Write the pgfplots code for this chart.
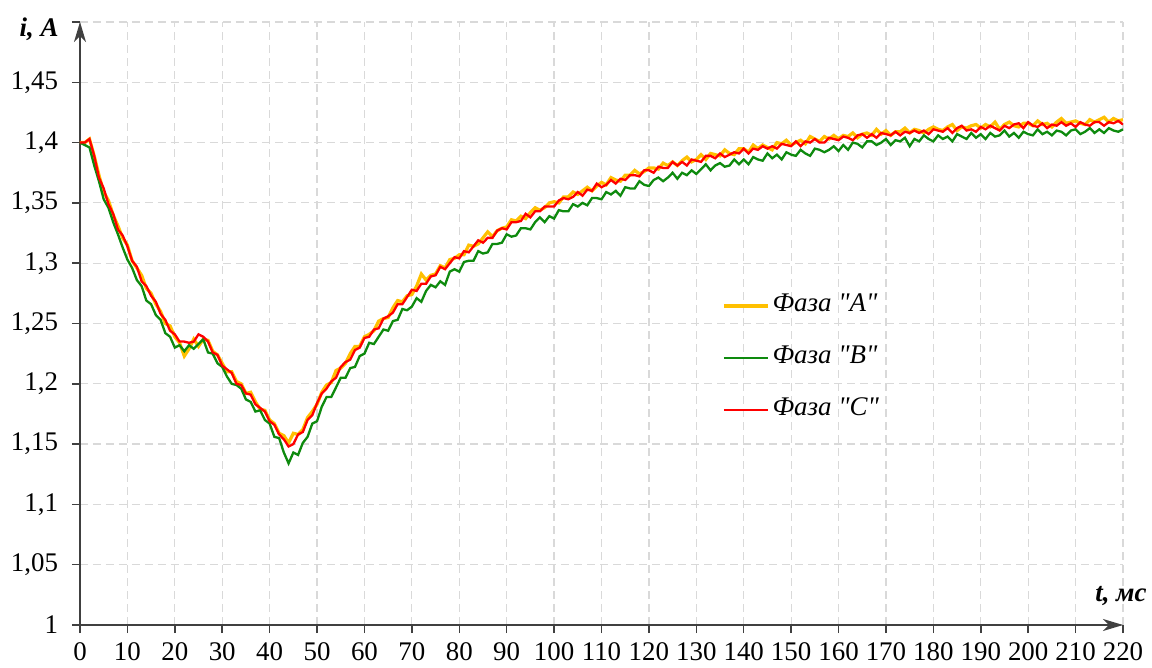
\documentclass[border=0pt]{standalone}
\usepackage{fontspec}
\setmainfont{Liberation Serif}[Ligatures=TeXOff]
\usepackage{pgfplots}
\usepackage{pgfplotstable}
\pgfplotsset{compat=1.18}
\usetikzlibrary{arrows.meta}
\definecolor{phA}{HTML}{FFC000}
\definecolor{phB}{HTML}{0E8A0E}
\definecolor{phC}{HTML}{FF0000}
\definecolor{gridc}{HTML}{D9D9D9}
\definecolor{axc}{HTML}{404040}

\pgfplotstableread{
t A B C
0 1.400 1.400 1.400
1 1.400 1.398 1.400
2 1.403 1.396 1.403
3 1.389 1.381 1.389
4 1.373 1.368 1.371
5 1.359 1.353 1.362
6 1.352 1.346 1.349
7 1.340 1.334 1.341
8 1.331 1.324 1.328
9 1.321 1.313 1.323
10 1.315 1.303 1.314
11 1.302 1.296 1.302
12 1.296 1.286 1.297
13 1.290 1.281 1.285
14 1.279 1.269 1.281
15 1.275 1.266 1.273
16 1.266 1.257 1.268
17 1.260 1.253 1.258
18 1.250 1.242 1.253
19 1.248 1.239 1.244
20 1.239 1.230 1.241
21 1.234 1.232 1.235
22 1.223 1.227 1.235
23 1.229 1.232 1.234
24 1.237 1.229 1.235
25 1.231 1.233 1.241
26 1.237 1.237 1.239
27 1.236 1.226 1.235
28 1.227 1.225 1.226
29 1.224 1.217 1.224
30 1.217 1.214 1.215
31 1.210 1.206 1.212
32 1.210 1.200 1.209
33 1.202 1.199 1.200
34 1.200 1.196 1.199
35 1.192 1.187 1.192
36 1.193 1.185 1.191
37 1.185 1.177 1.183
38 1.179 1.178 1.180
39 1.178 1.170 1.177
40 1.170 1.167 1.169
41 1.167 1.156 1.166
42 1.159 1.155 1.158
43 1.157 1.143 1.154
44 1.151 1.134 1.148
45 1.159 1.143 1.150
46 1.158 1.141 1.158
47 1.162 1.151 1.160
48 1.172 1.156 1.170
49 1.177 1.167 1.174
50 1.183 1.169 1.184
51 1.193 1.181 1.192
52 1.199 1.189 1.196
53 1.201 1.189 1.202
54 1.211 1.197 1.205
55 1.213 1.205 1.214
56 1.217 1.205 1.218
57 1.225 1.213 1.220
58 1.231 1.214 1.228
59 1.231 1.223 1.230
60 1.239 1.225 1.238
61 1.241 1.234 1.239
62 1.244 1.233 1.245
63 1.252 1.239 1.246
64 1.254 1.245 1.254
65 1.255 1.244 1.256
66 1.263 1.252 1.259
67 1.269 1.253 1.266
68 1.268 1.262 1.266
69 1.273 1.261 1.272
70 1.274 1.264 1.278
71 1.281 1.271 1.277
72 1.291 1.268 1.283
73 1.286 1.277 1.283
74 1.290 1.282 1.289
75 1.291 1.280 1.290
76 1.298 1.285 1.297
77 1.296 1.282 1.295
78 1.303 1.293 1.300
79 1.304 1.295 1.305
80 1.307 1.293 1.304
81 1.307 1.301 1.310
82 1.315 1.302 1.309
83 1.314 1.302 1.314
84 1.316 1.310 1.319
85 1.321 1.308 1.317
86 1.326 1.309 1.321
87 1.322 1.316 1.321
88 1.327 1.316 1.327
89 1.329 1.317 1.329
90 1.330 1.324 1.328
91 1.336 1.322 1.334
92 1.335 1.323 1.334
93 1.339 1.329 1.335
94 1.337 1.329 1.341
95 1.342 1.328 1.338
96 1.346 1.334 1.343
97 1.344 1.338 1.343
98 1.346 1.334 1.347
99 1.350 1.339 1.347
100 1.351 1.337 1.347
101 1.350 1.344 1.352
102 1.355 1.343 1.354
103 1.355 1.343 1.353
104 1.359 1.349 1.355
105 1.357 1.347 1.359
106 1.360 1.350 1.356
107 1.363 1.348 1.361
108 1.360 1.354 1.360
109 1.364 1.354 1.366
110 1.367 1.353 1.363
111 1.365 1.359 1.365
112 1.371 1.357 1.369
113 1.369 1.360 1.366
114 1.368 1.356 1.370
115 1.373 1.363 1.369
116 1.373 1.362 1.373
117 1.377 1.362 1.373
118 1.374 1.368 1.372
119 1.376 1.365 1.377
120 1.379 1.364 1.377
121 1.379 1.369 1.375
122 1.378 1.371 1.380
123 1.383 1.368 1.379
124 1.381 1.371 1.379
125 1.384 1.375 1.384
126 1.381 1.370 1.381
127 1.385 1.375 1.384
128 1.388 1.373 1.381
129 1.384 1.377 1.386
130 1.386 1.374 1.385
131 1.390 1.378 1.384
132 1.386 1.382 1.389
133 1.391 1.377 1.389
134 1.390 1.381 1.387
135 1.389 1.383 1.391
136 1.394 1.380 1.388
137 1.391 1.381 1.390
138 1.390 1.386 1.392
139 1.395 1.382 1.391
140 1.395 1.386 1.395
141 1.392 1.382 1.391
142 1.398 1.388 1.395
143 1.395 1.386 1.394
144 1.398 1.385 1.397
145 1.396 1.391 1.395
146 1.394 1.387 1.397
147 1.400 1.390 1.395
148 1.399 1.386 1.399
149 1.402 1.392 1.398
150 1.398 1.390 1.397
151 1.400 1.389 1.401
152 1.402 1.394 1.397
153 1.399 1.391 1.401
154 1.405 1.389 1.400
155 1.403 1.395 1.403
156 1.401 1.394 1.400
157 1.405 1.392 1.400
158 1.403 1.394 1.404
159 1.406 1.397 1.403
160 1.403 1.393 1.402
161 1.406 1.398 1.405
162 1.405 1.394 1.404
163 1.408 1.400 1.402
164 1.404 1.399 1.406
165 1.407 1.396 1.407
166 1.408 1.401 1.404
167 1.406 1.401 1.407
168 1.411 1.398 1.404
169 1.407 1.400 1.408
170 1.410 1.403 1.407
171 1.406 1.398 1.406
172 1.409 1.402 1.409
173 1.409 1.401 1.406
174 1.412 1.404 1.409
175 1.408 1.397 1.408
176 1.411 1.403 1.410
177 1.410 1.401 1.408
178 1.408 1.406 1.410
179 1.411 1.403 1.407
180 1.413 1.401 1.411
181 1.411 1.406 1.410
182 1.410 1.403 1.409
183 1.413 1.405 1.412
184 1.415 1.401 1.408
185 1.410 1.407 1.412
186 1.413 1.405 1.414
187 1.412 1.403 1.410
188 1.414 1.408 1.411
189 1.415 1.404 1.409
190 1.412 1.407 1.413
191 1.415 1.403 1.411
192 1.413 1.408 1.414
193 1.417 1.405 1.412
194 1.411 1.406 1.410
195 1.415 1.410 1.414
196 1.417 1.405 1.412
197 1.414 1.408 1.415
198 1.413 1.404 1.416
199 1.416 1.409 1.412
200 1.416 1.407 1.417
201 1.414 1.406 1.414
202 1.418 1.411 1.413
203 1.415 1.407 1.416
204 1.416 1.409 1.412
205 1.413 1.406 1.415
206 1.417 1.410 1.414
207 1.420 1.409 1.417
208 1.416 1.406 1.414
209 1.417 1.410 1.416
210 1.418 1.411 1.413
211 1.416 1.407 1.417
212 1.415 1.409 1.415
213 1.419 1.412 1.414
214 1.417 1.408 1.417
215 1.419 1.411 1.417
216 1.421 1.408 1.414
217 1.417 1.412 1.417
218 1.420 1.410 1.416
219 1.418 1.409 1.418
220 1.419 1.411 1.415
}\datatable

\begin{document}
\begin{tikzpicture}
\begin{axis}[
  scale only axis,
  width=521.5bp, height=301.5bp,
  xmin=0, xmax=220, ymin=1, ymax=1.5,
  axis lines=left,
  axis line style={draw=axc, line width=0.75bp, -{Stealth[length=10bp,width=6bp,inset=3bp]}},
  xtick={0,10,...,220},
  ytick={1,1.05,1.1,1.15,1.2,1.25,1.3,1.35,1.4,1.45,1.5},
  yticklabels={1,{1,05},{1,1},{1,15},{1,2},{1,25},{1,3},{1,35},{1,4},{1,45},{}},
  tick align=outside,
  major tick length=4bp,
  tick style={draw=axc, line width=0.75bp},
  grid=major,
  major grid style={draw=gridc, line width=0.6bp, dash pattern=on 4bp off 2.5bp},
  tick label style={font=\fontsize{13.5}{16}\selectfont},
  yticklabel style={xshift=-3.5bp},
  xticklabel style={yshift=-1.5bp},
  /pgf/number format/assume math mode=true,
  xlabel={\textbf{\textit{t, мс}}},
  ylabel={\textbf{\textit{i, A}}},
  label style={font=\fontsize{13.5}{16}\selectfont},
  xlabel style={at={(rel axis cs:1,0)}, anchor=east, inner sep=0pt, xshift=12bp, yshift=14.5bp},
  ylabel style={rotate=-90, at={(rel axis cs:0,1)}, anchor=east, inner sep=0pt, xshift=-10.5bp, yshift=-3.75bp},
  legend style={draw=none, fill=none, at={(rel axis cs:0.6155,0.4428)}, anchor=west,
    font=\fontsize{13.5}{16}\selectfont\itshape, row sep=14bp, inner sep=0pt,
    nodes={inner xsep=1.5bp, inner ysep=0pt, text height=9bp, text depth=3bp}},
  legend cell align=left,
  legend image code/.code={\draw[#1] (0bp,0bp) -- (22bp,0bp);},
]
\addplot[phA, line width=1.6bp] table[x=t, y=A] {\datatable};
\addlegendentry{Фаза "A"}
\addplot[phB, line width=1.15bp] table[x=t, y=B] {\datatable};
\addlegendentry{Фаза "B"}
\addplot[phC, line width=1.15bp] table[x=t, y=C] {\datatable};
\addlegendentry{Фаза "C"}
\end{axis}
\pgfresetboundingbox
\path[use as bounding box] ([shift={(-40bp,-21.5bp)}]current axis.south west) rectangle ([shift={(14.5bp,11bp)}]current axis.north east);
\end{tikzpicture}
\end{document}
